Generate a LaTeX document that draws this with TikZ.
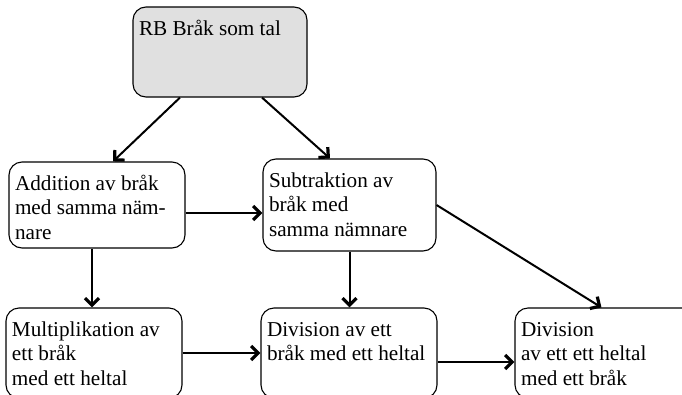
\documentclass[tikz,border=0pt]{standalone}
\usepackage{fontspec}
\setmainfont{Liberation Serif}
\usetikzlibrary{arrows.meta}

% box content: width, height, text (top-left aligned, first baseline 28pt down)
\newcommand{\boxcontent}[3]{%
  \parbox[c][#2][t]{#1}{\raggedright\fontsize{21.2pt}{24.5pt}\selectfont
    \rule{0pt}{28pt}#3}}

\tikzset{
  box/.style={draw=black, line width=1.1pt, rounded corners=13pt,
    inner xsep=6pt, inner ysep=0pt, fill=white, anchor=center},
  topbox/.style={box, fill=black!12},
  conn/.style={line width=2pt, black,
    -{Straight Barb[length=7pt,width=14pt,line width=3.2pt]}},
}

\begin{document}
\begin{tikzpicture}[x=1pt, y=-1pt]
  \useasboundingbox (0,0) rectangle (682,394);
  \clip (0,0) rectangle (682,394);

  % nodes
  \node[topbox] (top)  at (220,52)    {\boxcontent{162pt}{90pt}{RB Bråk som tal}};
  \node[box]    (add)  at (97,205)    {\boxcontent{164pt}{86pt}{Addition av bråk\\med samma näm-\\nare}};
  \node[box]    (sub)  at (349.5,205) {\boxcontent{161pt}{92pt}{Subtraktion av\\bråk med\\samma nämnare}};
  \node[box]    (mult) at (94,353)    {\boxcontent{164pt}{90pt}{Multiplikation av\\ett bråk\\med ett heltal}};
  \node[box]    (divm) at (349,353)   {\boxcontent{164pt}{90pt}{Division av ett\\bråk med ett heltal}};
  \node[box]    (divr) at (605,353)   {\boxcontent{168pt}{90pt}{Division\\av ett ett heltal\\med ett bråk}};

  % connectors
  \draw[conn] ([xshift=-40pt]top.south) -- ([xshift=16pt]add.north);
  \draw[conn] ([xshift=42pt]top.south) -- ([xshift=-19.5pt]sub.north);
  \draw[conn] ([yshift=-8pt]add.east) -- ([yshift=-8pt]sub.west);
  \draw[conn] ([xshift=-5pt]add.south) -- ([xshift=-5pt]add.south |- mult.north);
  \draw[conn] (sub.south) -- (sub.south |- divm.north);
  \draw[conn] (sub.east) -- ([xshift=87pt]divr.north west);
  \draw[conn] (mult.east) -- (divm.west);
  \draw[conn] ([yshift=-9pt]divm.east) -- ([yshift=-9pt]divr.west);
\end{tikzpicture}
\end{document}
